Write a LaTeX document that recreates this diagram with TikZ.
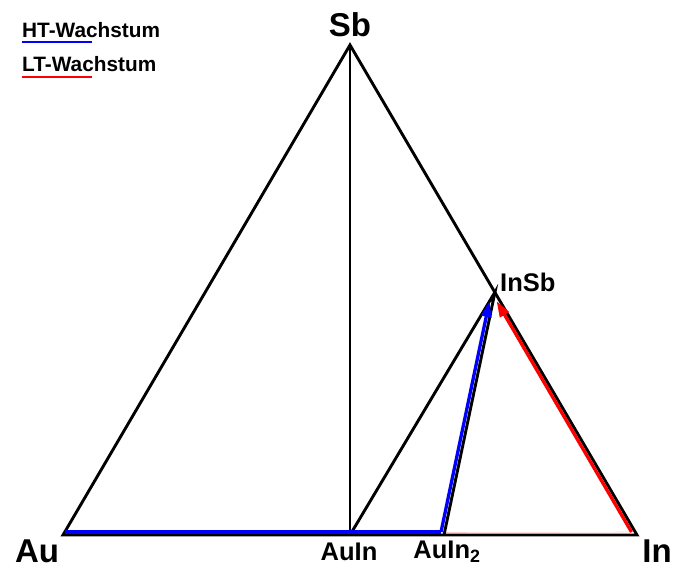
\documentclass[tikz,border=0pt]{standalone}
\usepackage{fontspec}
\setmainfont{Liberation Sans}
\usetikzlibrary{arrows.meta,calc}
\begin{document}
\begin{tikzpicture}[x=1pt,y=-1pt,
  edge/.style={line width=2.9pt,black,line join=miter},
  htpath/.style={line width=3.3pt,draw=blue},
  ltpath/.style={line width=3.3pt,draw=red},
  tip/.style={-{Triangle[length=16pt,width=10pt]}},
  corner/.style={font=\fontsize{33}{36}\selectfont\bfseries,inner sep=0pt},
  phase/.style={font=\fontsize{25.5}{28}\selectfont\bfseries,inner sep=0pt},
  legend/.style={font=\fontsize{20.8}{24}\selectfont\bfseries,inner sep=0pt,anchor=west}]
\useasboundingbox (0,0) rectangle (675,570);
% corners and phase points of the ternary system
\coordinate (Au) at (63,535);
\coordinate (In) at (637,535);
\coordinate (Sb) at (350,45);
\coordinate (InSb) at (495,292);
\coordinate (AuIn) at (350,535);
\coordinate (AuInz) at (444,535);
% growth paths, drawn just beside the tie lines
\coordinate (h1) at (65,532);
\coordinate (h2) at (441,532);
\coordinate (h3) at (489.5,301);
\coordinate (r1) at (631.5,532);
\coordinate (r2) at (496.5,301);
\coordinate (r3) at (446,532.5);
\draw[line width=0.6pt,red,opacity=0.2] (r3) -- (r1);
% triangle and tie lines
\draw[edge] (Au) -- (In) -- (Sb) -- cycle;
\draw[edge] (Sb) -- (AuIn);
\draw[edge] (AuIn) -- (InSb) -- (AuInz);
% HT and LT growth paths
\draw[htpath] (h1) -- (h2);
\draw[htpath,tip,fill=blue] (h2) -- (h3);
\draw[ltpath,tip,fill=red] (r1) -- (r2);
% labels
\node[corner] (lSb) at (350,25) {Sb};
\node[corner] (lAu) at (37,551) {Au};
\node[corner] (lIn) at (657,551) {In};
\node[phase,anchor=west] (lInSb) at (500,282) {InSb};
\node[phase] (lAuIn) at (349,552) {AuIn};
\node[phase] (lAuInz) at (447,552) {AuIn$_{\mathbf{2}}$};
% legend
\node[legend] (lHT) at (22,30) {HT-Wachstum};
\node[legend] (lLT) at (22,64) {LT-Wachstum};
\coordinate (ht0) at (22,42);
\coordinate (ht1) at (92,42);
\coordinate (lt0) at (22,77);
\coordinate (lt1) at (92,77);
\draw[line width=2.5pt,blue] (ht0) -- (ht1);
\draw[line width=2.5pt,red] (lt0) -- (lt1);
\end{tikzpicture}
\end{document}
